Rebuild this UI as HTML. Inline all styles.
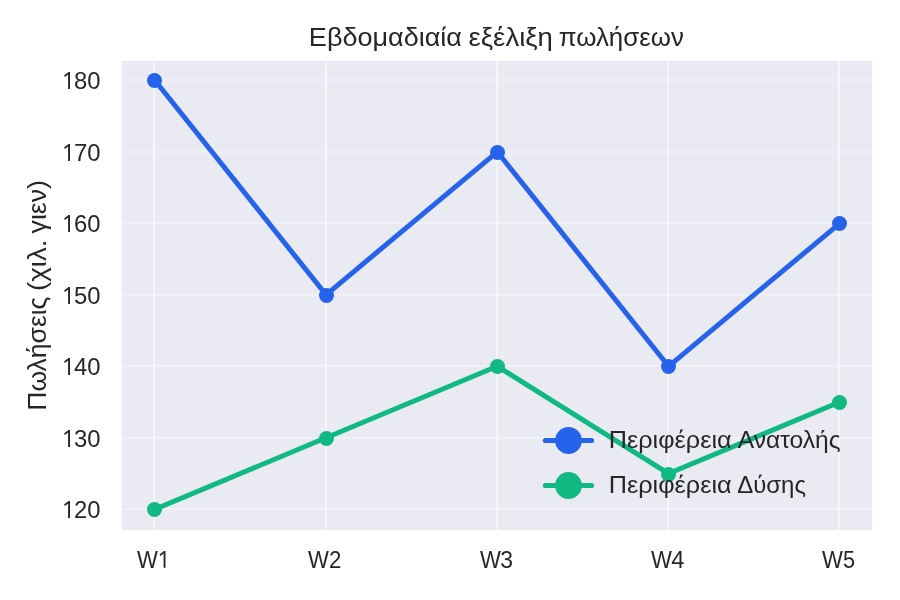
<!DOCTYPE html>
<html><head><meta charset="utf-8">
<style>
html,body{margin:0;padding:0;background:#fff;}
svg{display:block;will-change:transform;}
text{font-family:"Liberation Sans",sans-serif;fill:#262626;}
</style></head>
<body>
<svg width="900" height="600" viewBox="0 0 900 600">
<rect x="0" y="0" width="900" height="600" fill="#ffffff"/>
<rect x="121.7" y="60.8" width="750.50" height="469.40" fill="#EAEAF2"/>
<g fill="#ffffff" fill-opacity="0.5">
<rect x="153" y="60.8" width="2" height="469.40"/>
<rect x="325" y="60.8" width="2" height="469.40"/>
<rect x="496" y="60.8" width="2" height="469.40"/>
<rect x="667" y="60.8" width="2" height="469.40"/>
<rect x="838" y="60.8" width="2" height="469.40"/>
</g>
<g fill="#ffffff" fill-opacity="0.3">
<rect x="121.7" y="508" width="750.50" height="2"/>
<rect x="121.7" y="437" width="750.50" height="2"/>
<rect x="121.7" y="365" width="750.50" height="2"/>
<rect x="121.7" y="294" width="750.50" height="2"/>
<rect x="121.7" y="222" width="750.50" height="2"/>
<rect x="121.7" y="151" width="750.50" height="2"/>
<rect x="121.7" y="79" width="750.50" height="2"/>
</g>
<g fill="none" stroke-width="5.0" stroke-linejoin="round" stroke-linecap="round">
<polyline stroke="#2563EB" points="154.8,80.30 326.05,294.80 497.3,151.80 668.55,366.30 839.8,223.30"/>
<polyline stroke="#10B981" points="154.8,509.30 326.05,437.80 497.3,366.30 668.55,473.55 839.8,402.05"/>
</g>
<g fill="#2563EB"><circle cx="154.5" cy="80.50" r="7.5"/><circle cx="326.5" cy="295.50" r="7.5"/><circle cx="497.5" cy="152.50" r="7.5"/><circle cx="668.5" cy="366.50" r="7.5"/><circle cx="839.5" cy="223.50" r="7.5"/></g>
<g fill="#10B981"><circle cx="154.5" cy="509.50" r="7.5"/><circle cx="326.5" cy="438.50" r="7.5"/><circle cx="497.5" cy="366.50" r="7.5"/><circle cx="668.5" cy="474.50" r="7.5"/><circle cx="839.5" cy="402.50" r="7.5"/></g>
<line x1="545.3" y1="440.5" x2="591.6" y2="440.5" stroke="#2563EB" stroke-width="5.0" stroke-linecap="round"/>
<circle cx="568.5" cy="440.5" r="13.4" fill="#2563EB"/>
<line x1="545.3" y1="485.5" x2="591.6" y2="485.5" stroke="#10B981" stroke-width="5.0" stroke-linecap="round"/>
<circle cx="568.5" cy="485.5" r="13.4" fill="#10B981"/>
<text x="608.72" y="448.0" font-size="24.6" textLength="122.90" lengthAdjust="spacingAndGlyphs">Περιφέρεια</text>
<text x="737.74" y="448.0" font-size="24.6" textLength="102.92" lengthAdjust="spacingAndGlyphs">Ανατολής</text>
<text x="608.72" y="492.8" font-size="24.6" textLength="122.90" lengthAdjust="spacingAndGlyphs">Περιφέρεια</text>
<text x="737.28" y="492.8" font-size="24.6" textLength="68.70" lengthAdjust="spacingAndGlyphs">Δύσης</text>
<text x="308.87" y="45.8" font-size="26.0" textLength="153.11" lengthAdjust="spacingAndGlyphs">Εβδομαδιαία</text>
<text x="468.54" y="45.8" font-size="26.0" textLength="84.37" lengthAdjust="spacingAndGlyphs">εξέλιξη</text>
<text x="558.73" y="45.8" font-size="26.0" textLength="125.14" lengthAdjust="spacingAndGlyphs">πωλήσεων</text>
<g transform="translate(45.9,408.5) rotate(-90)">
<text x="-2.18" y="0" font-size="26.0" textLength="114.04" lengthAdjust="spacingAndGlyphs">Πωλήσεις</text>
<text x="117.57" y="0" font-size="26.0" textLength="51.33" lengthAdjust="spacingAndGlyphs">(χιλ.</text>
<text x="175.07" y="0" font-size="26.0" textLength="53.43" lengthAdjust="spacingAndGlyphs">γιεν)</text>
</g>
<text x="73.91" y="517.70" font-size="24.6" textLength="26.54" lengthAdjust="spacingAndGlyphs">20</text>
<path transform="translate(64,517.9)" d="M4.5 -16.9L6.0 -16.9L6.0 0L4.1 0L4.1 -14.4L1.0 -11.9L0 -13.3Z" fill="#262626"/>
<text x="73.91" y="446.70" font-size="24.6" textLength="26.54" lengthAdjust="spacingAndGlyphs">30</text>
<path transform="translate(64,446.9)" d="M4.5 -16.9L6.0 -16.9L6.0 0L4.1 0L4.1 -14.4L1.0 -11.9L0 -13.3Z" fill="#262626"/>
<text x="73.91" y="374.70" font-size="24.6" textLength="26.54" lengthAdjust="spacingAndGlyphs">40</text>
<path transform="translate(64,374.9)" d="M4.5 -16.9L6.0 -16.9L6.0 0L4.1 0L4.1 -14.4L1.0 -11.9L0 -13.3Z" fill="#262626"/>
<text x="73.91" y="303.70" font-size="24.6" textLength="26.54" lengthAdjust="spacingAndGlyphs">50</text>
<path transform="translate(64,303.9)" d="M4.5 -16.9L6.0 -16.9L6.0 0L4.1 0L4.1 -14.4L1.0 -11.9L0 -13.3Z" fill="#262626"/>
<text x="73.91" y="231.70" font-size="24.6" textLength="26.54" lengthAdjust="spacingAndGlyphs">60</text>
<path transform="translate(64,231.9)" d="M4.5 -16.9L6.0 -16.9L6.0 0L4.1 0L4.1 -14.4L1.0 -11.9L0 -13.3Z" fill="#262626"/>
<text x="73.91" y="160.70" font-size="24.6" textLength="26.54" lengthAdjust="spacingAndGlyphs">70</text>
<path transform="translate(64,160.9)" d="M4.5 -16.9L6.0 -16.9L6.0 0L4.1 0L4.1 -14.4L1.0 -11.9L0 -13.3Z" fill="#262626"/>
<text x="73.91" y="88.70" font-size="24.6" textLength="26.54" lengthAdjust="spacingAndGlyphs">80</text>
<path transform="translate(64,88.9)" d="M4.5 -16.9L6.0 -16.9L6.0 0L4.1 0L4.1 -14.4L1.0 -11.9L0 -13.3Z" fill="#262626"/>
<text x="136.99" y="567.7" font-size="24.6" textLength="20.90" lengthAdjust="spacingAndGlyphs">W</text>
<path transform="translate(159.5,567.8)" d="M4.5 -16.9L6.0 -16.9L6.0 0L4.1 0L4.1 -14.4L1.0 -11.9L0 -13.3Z" fill="#262626"/>
<text x="308.09" y="567.7" font-size="24.6" textLength="20.90" lengthAdjust="spacingAndGlyphs">W</text>
<text x="328.89" y="567.7" font-size="24.6" textLength="12.35" lengthAdjust="spacingAndGlyphs">2</text>
<text x="479.99" y="567.7" font-size="24.6" textLength="20.90" lengthAdjust="spacingAndGlyphs">W</text>
<text x="500.34" y="567.7" font-size="24.6" textLength="12.76" lengthAdjust="spacingAndGlyphs">3</text>
<text x="650.99" y="567.7" font-size="24.6" textLength="20.90" lengthAdjust="spacingAndGlyphs">W</text>
<text x="671.37" y="567.7" font-size="24.6" textLength="13.22" lengthAdjust="spacingAndGlyphs">4</text>
<text x="821.99" y="567.7" font-size="24.6" textLength="20.90" lengthAdjust="spacingAndGlyphs">W</text>
<text x="843.03" y="567.7" font-size="24.6" textLength="12.06" lengthAdjust="spacingAndGlyphs">5</text>
</svg>
</body></html>
